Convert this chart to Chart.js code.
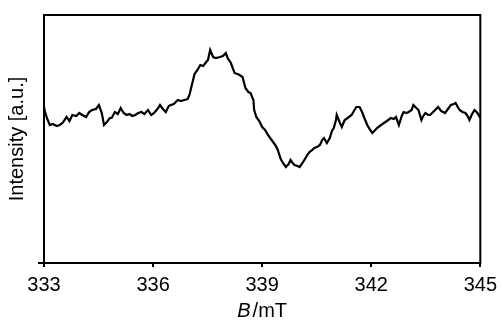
<!DOCTYPE html>
<html><head><meta charset="utf-8">
<script src="https://cdn.jsdelivr.net/npm/chart.js@4/dist/chart.umd.min.js"></script>
<style>html,body{margin:0;padding:0;background:#fff}#wrap{width:503px;height:320px}</style>
</head><body><div id="wrap"><canvas id="c" width="503" height="320"></canvas></div>
<script>
const fieldMT = [333.00,333.03,333.08,333.16,333.24,333.35,333.43,333.51,333.62,333.70,333.78,333.89,333.97,334.05,334.16,334.24,334.32,334.43,334.51,334.59,334.65,334.73,334.81,334.86,334.95,335.03,335.11,335.19,335.27,335.35,335.43,335.51,335.59,335.68,335.76,335.86,335.95,336.03,336.14,336.19,336.27,336.35,336.43,336.49,336.57,336.68,336.76,336.86,336.95,337.00,337.08,337.14,337.22,337.30,337.38,337.46,337.51,337.57,337.65,337.73,337.84,337.92,338.00,338.05,338.14,338.24,338.32,338.38,338.46,338.54,338.62,338.68,338.76,338.78,338.84,338.92,339.00,339.08,339.16,339.22,339.30,339.38,339.43,339.51,339.59,339.65,339.73,339.78,339.84,339.89,339.97,340.03,340.11,340.16,340.24,340.30,340.38,340.43,340.51,340.59,340.65,340.70,340.78,340.86,340.92,340.97,341.03,341.05,341.14,341.19,341.27,341.35,341.46,341.54,341.59,341.68,341.76,341.81,341.89,341.97,342.03,342.11,342.16,342.27,342.35,342.43,342.54,342.62,342.68,342.76,342.84,342.89,342.97,343.03,343.11,343.16,343.24,343.30,343.38,343.43,343.49,343.57,343.62,343.73,343.84,343.92,344.03,344.11,344.19,344.27,344.32,344.38,344.43,344.51,344.59,344.65,344.70,344.76,344.84,344.92,345.00];
const intensity = [156,151,145,138,139,137,138,140,146,142,148,147,150,148,146,151,153,154,158,150,138,141,145,145,151,149,155,150,148,149,147,148,150,151,149,153,148,150,155,158,154,151,157,158,159,163,162,163,164,168,180,189,193,198,197,201,203,213,206,205,206,207,210,205,200,190,189,188,186,175,171,170,163,153,146,142,136,133,128,125,121,117,113,104,99,96,99,103,100,98,97,96,100,103,108,111,113,115,116,118,123,125,120,125,132,135,143,148,140,136,143,145,148,153,156,156,150,145,138,133,130,133,135,138,140,142,145,144,146,138,147,151,150,151,153,158,155,153,143,147,150,148,148,152,156,152,150,154,158,159,160,156,153,151,150,147,143,148,153,150,145];
const xTicks = [333,336,339,342,345];
const xTitleItalic = 'B';
const xTitleRest = '/mT';
const yTitle = 'Intensity [a.u.]';

const FONT = '"Liberation Sans", Arial, sans-serif';
const pts = fieldMT.map((b,i)=>({x:b,y:intensity[i]}));

const frame = {
  id:'frame',
  afterDraw(chart){
    const {ctx, chartArea:a} = chart;
    ctx.save();
    ctx.strokeStyle='#000'; ctx.lineWidth=2;
    ctx.strokeRect(a.left, a.top, a.right-a.left, a.bottom-a.top);
    ctx.fillStyle='#000'; ctx.textBaseline='middle';
    ctx.font = 'italic 20px ' + FONT;
    const w1 = ctx.measureText(xTitleItalic).width + 2;
    ctx.font = '20px ' + FONT;
    const w2 = ctx.measureText(xTitleRest).width;
    const cx = (a.left + a.right)/2;
    const x0 = cx - (w1+w2)/2;
    ctx.font = 'italic 20px ' + FONT;
    ctx.textAlign='left';
    ctx.fillText(xTitleItalic, x0, 311);
    ctx.font = '20px ' + FONT;
    ctx.fillText(xTitleRest, x0 + w1, 311);
    ctx.restore();
  }
};

new Chart(document.getElementById('c'), {
  type:'line',
  data:{datasets:[{data:pts, borderColor:'#000', borderWidth:2.2, pointRadius:0, tension:0, fill:false}]},
  options:{
    responsive:false, animation:false,
    layout:{autoPadding:false, padding:{left:0,right:15,top:15,bottom:0}},
    plugins:{legend:{display:false}, tooltip:{enabled:false}},
    scales:{
      x:{type:'linear', min:333, max:345,
        afterBuildTicks(s){ s.ticks = xTicks.map(v=>({value:v})); },
        afterFit(s){ s.height = 57; },
        grid:{drawOnChartArea:false, drawTicks:true, tickLength:4, color:'#000', lineWidth:2},
        border:{display:true, color:'#000', width:2},
        ticks:{color:'#000', font:{family:FONT, size:20}, padding:6, maxRotation:0, autoSkip:false}
      },
      y:{min:0, max:248,
        afterBuildTicks(s){ s.ticks = [{value:0}]; },
        afterFit(s){ s.width = 44; },
        grid:{drawOnChartArea:false, drawTicks:true, tickLength:6, color:'#000', lineWidth:2},
        border:{display:true, color:'#000', width:2},
        ticks:{display:false},
        title:{display:true, text:yTitle, color:'#000', font:{family:FONT, size:20}, padding:{top:5,bottom:0}}
      }
    }
  },
  plugins:[frame]
});
</script></body></html>
